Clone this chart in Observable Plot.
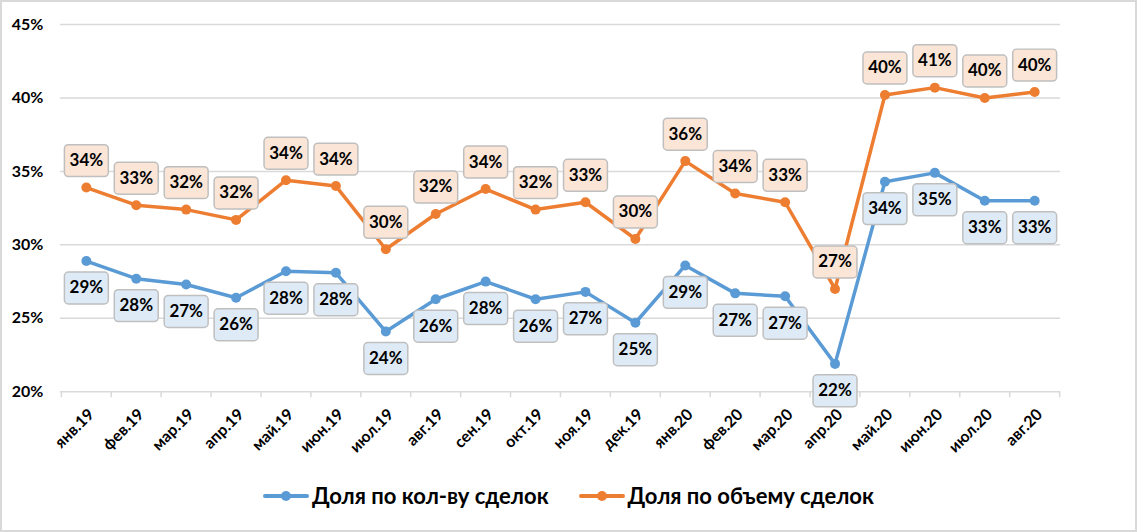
<!DOCTYPE html>
<html>
<head>
<meta charset="utf-8">
<script src="https://cdn.jsdelivr.net/npm/d3@7"></script>
<script src="https://cdn.jsdelivr.net/npm/@observablehq/plot@0.6"></script>
<style>
  html, body { margin: 0; padding: 0; background: #fff; }
  #frame { width: 1133px; height: 528px; border: 2px solid #d9d9d9; position: relative; overflow: hidden; font-family: Lato, "Open Sans", sans-serif; }
  #chart { position: absolute; left: -2px; top: -2px; }
  #legend { position: absolute; left: 0; right: 0; top: 480px; display: flex; justify-content: center; gap: 30px; font-weight: bold; font-size: 22px; color: #000; }
  .item { display: flex; align-items: center; gap: 3px; }
</style>
</head>
<body>
<div id="frame"><div id="chart"></div><div id="legend"></div></div>
<script>
const months = ["янв.19","фев.19","мар.19","апр.19","май.19","июн.19","июл.19","авг.19","сен.19","окт.19","ноя.19","дек.19","янв.20","фев.20","мар.20","апр.20","май.20","июн.20","июл.20","авг.20"];
const countShare = [28.9,27.7,27.3,26.4,28.2,28.1,24.1,26.3,27.5,26.3,26.8,24.7,28.6,26.7,26.5,21.9,34.3,34.9,33.0,33.0];
const volumeShare = [33.9,32.7,32.4,31.7,34.4,34.0,29.7,32.1,33.8,32.4,32.9,30.4,35.7,33.5,32.9,27.0,40.2,40.7,40.0,40.4];
const seriesNames = ["Доля по кол-ву сделок", "Доля по объему сделок"];
const yTicks = [20,25,30,35,40,45];

const blue = "#5B9BD5", orange = "#ED7D31";
const blueFill = "#DEEBF7", orangeFill = "#FBE5D6";

const count = months.map((m, i) => ({month: m, value: countShare[i]}));
const volume = months.map((m, i) => ({month: m, value: volumeShare[i]}));

const W = 1137, H = 475, mt = 24, mb = 83, ml = 60, mr = 75;
const plotH = H - mt - mb;
const bw = (W - ml - mr) / months.length;

const boxSymbol = {
  draw(ctx) {
    const w = 22, h = 16, r = 4;
    ctx.moveTo(-w + r, -h);
    ctx.lineTo(w - r, -h);
    ctx.arcTo(w, -h, w, -h + r, r);
    ctx.lineTo(w, h - r);
    ctx.arcTo(w, h, w - r, h, r);
    ctx.lineTo(-w + r, h);
    ctx.arcTo(-w, h, -w, h - r, r);
    ctx.lineTo(-w, -h + r);
    ctx.arcTo(-w, -h, -w + r, -h, r);
    ctx.closePath();
  }
};

const fmt = v => Math.round(v) + "%";
const labelFont = {fontSize: 17, fontWeight: "bold", fill: "#000", fontFamily: "Lato"};

const chart = Plot.plot({
  width: W, height: H,
  marginTop: mt, marginBottom: mb, marginLeft: ml, marginRight: mr,
  style: {fontFamily: "Lato, sans-serif", background: "transparent", overflow: "visible"},
  x: {type: "band", domain: months, padding: 0, align: 0.5, label: null, axis: null},
  y: {domain: [20, 45], ticks: yTicks, label: null},
  marks: [
    Plot.ruleY(yTicks.filter(t => t > 20), {stroke: "#d9d9d9", strokeWidth: 1.5}),
    Plot.ruleY([20], {stroke: "#d9d9d9", strokeWidth: 1.5}),
    Plot.ruleX(months, {x: d => d, dx: -bw / 2, insetTop: plotH, insetBottom: -6, stroke: "#d9d9d9", strokeWidth: 1.5}),
    Plot.ruleX([months[months.length - 1]], {x: d => d, dx: bw / 2, insetTop: plotH, insetBottom: -6, stroke: "#d9d9d9", strokeWidth: 1.5}),
    Plot.axisY({ticks: yTicks, tickSize: 0, tickPadding: 17, tickFormat: d => d + "%", fontSize: 16, fontWeight: "bold", fill: "#000", label: null}),
    Plot.text(months, {x: d => d, frameAnchor: "bottom", dx: 5, dy: 20, rotate: -45, textAnchor: "end", lineAnchor: "middle", text: d => d, fontSize: 16, fontWeight: "bold", fill: "#000"}),
    Plot.line(count, {x: "month", y: "value", stroke: blue, strokeWidth: 3.5}),
    Plot.line(volume, {x: "month", y: "value", stroke: orange, strokeWidth: 3.5}),
    Plot.dot(count, {x: "month", y: "value", r: 5, fill: blue}),
    Plot.dot(volume, {x: "month", y: "value", r: 5, fill: orange}),
    Plot.dot(count, {x: "month", y: "value", dy: 27, r: 5, symbol: boxSymbol, fill: blueFill, stroke: "#BFBFBF", strokeWidth: 1.5}),
    Plot.text(count, {x: "month", y: "value", dy: 27, text: d => fmt(d.value), ...labelFont}),
    Plot.dot(volume, {x: "month", y: "value", dy: -27, r: 5, symbol: boxSymbol, fill: orangeFill, stroke: "#BFBFBF", strokeWidth: 1.5}),
    Plot.text(volume, {x: "month", y: "value", dy: -27, text: d => fmt(d.value), ...labelFont})
  ]
});
document.getElementById("chart").appendChild(chart);

const legend = document.getElementById("legend");
[[seriesNames[0], blue], [seriesNames[1], orange]].forEach(([name, color]) => {
  const item = document.createElement("div");
  item.className = "item";
  item.innerHTML = `<svg width="46" height="12"><line x1="2" y1="6" x2="44" y2="6" stroke="${color}" stroke-width="4" stroke-linecap="round"/><circle cx="23" cy="6" r="5" fill="${color}"/></svg><span>${name}</span>`;
  legend.appendChild(item);
});
</script>
</body>
</html>
